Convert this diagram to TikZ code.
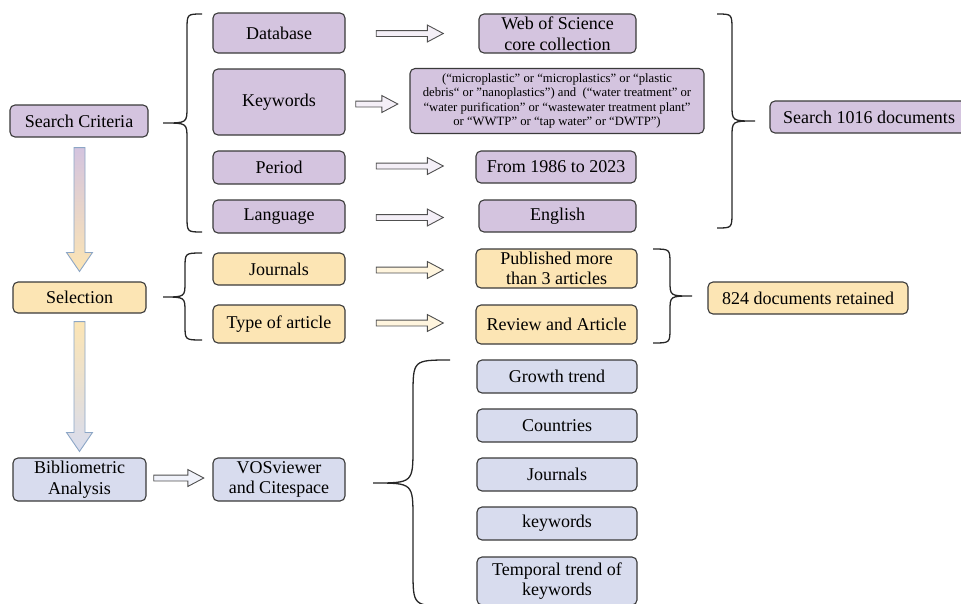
\documentclass[tikz,border=0pt]{standalone}
\usepackage{fontspec}
\setmainfont{Liberation Serif}
\usetikzlibrary{shapes.arrows,calc}
\definecolor{pur}{RGB}{212,196,223}
\definecolor{yel}{RGB}{252,229,180}
\definecolor{blu}{RGB}{216,220,238}
\definecolor{bd}{RGB}{58,58,58}
\definecolor{ad}{RGB}{80,80,80}
\definecolor{apur}{RGB}{244,239,247}
\definecolor{ayel}{RGB}{255,245,222}
\definecolor{ablu}{RGB}{240,242,250}
\definecolor{vb}{RGB}{140,166,198}
\newcommand{\mybrace}[7]{%
\draw[bracestyle] (#1,#4) .. controls (#2,#4) .. (#2,{#4+#7}) -- (#2,{#5-#7}) .. controls (#2,#5) .. (#3,#5) .. controls (#2,#5) .. (#2,{#5+#7}) -- (#2,{#6-#7}) .. controls (#2,#6) .. (#1,#6);}
\begin{document}
\begin{tikzpicture}[x=1pt,y=-1pt,
  box/.style={draw=bd, line width=1.1pt, rounded corners=5pt, inner sep=0pt, align=center,
    font=\fontsize{18}{20.5}\selectfont},
  pbox/.style={box, fill=pur},
  ybox/.style={box, fill=yel},
  bbox/.style={box, fill=blu},
  harrow/.style={single arrow, draw=ad, line width=0.9pt, minimum width=16pt,
    single arrow head extend=5.5pt, single arrow tip angle=56, inner sep=2.5pt},
  bracestyle/.style={draw=black!85, line width=1.3pt},
  varrow/.style={draw=vb, line width=0.9pt}]
\useasboundingbox (0,0) rectangle (961,603);
% --- Search criteria block
\node[pbox, minimum width=138pt, minimum height=32pt] (sc) at (79,121) {Search Criteria};
\node[pbox, minimum width=132pt, minimum height=40pt] (db) at (279,33) {Database};
\node[pbox, minimum width=132pt, minimum height=66pt] (kw) at (279,102) {Keywords};
\node[pbox, minimum width=132pt, minimum height=33pt] (pe) at (279,167.5) {Period};
\node[pbox, minimum width=132pt, minimum height=33pt] (la) at (279,216.5) {Language};
\node[pbox, minimum width=157pt, minimum height=39pt] (wos) at (557.5,33.5) {Web of Science\\core collection};
\node[pbox, minimum width=294pt, minimum height=65pt, font=\fontsize{12.7}{14.6}\selectfont] (kwt) at (557,101)
  {(“microplastic” or “microplastics” or “plastic\\debris“ or ”nanoplastics”) and\ \ (“water treatment” or\\“water purification” or “wastewater treatment plant”\\or “WWTP” or “tap water” or “DWTP”)};
\node[pbox, minimum width=160pt, minimum height=32pt] (per) at (556,167) {From 1986 to 2023};
\node[pbox, minimum width=157pt, minimum height=32pt] (eng) at (557.5,216) {English};
\node[pbox, minimum width=198pt, minimum height=32pt] (s1016) at (869,117) {Search 1016 documents};
% --- Selection block
\node[ybox, minimum width=133pt, minimum height=31pt] (sel) at (79.5,297.5) {Selection};
\node[ybox, minimum width=132pt, minimum height=32pt] (jo) at (279,269) {Journals};
\node[ybox, minimum width=132pt, minimum height=38pt] (ty) at (279,324) {Type of article};
\node[ybox, minimum width=161pt, minimum height=39pt] (pub) at (556.5,268.5) {Published more\\than 3 articles};
\node[ybox, minimum width=161pt, minimum height=39pt] (rev) at (556.5,324.5) {Review and Article};
\node[ybox, minimum width=200pt, minimum height=32pt] (r824) at (808,298) {824 documents retained};
% --- Bibliometric block
\node[bbox, minimum width=133pt, minimum height=43pt] (bib) at (79.5,479.5) {Bibliometric\\Analysis};
\node[bbox, minimum width=132pt, minimum height=43pt] (vos) at (279,479.5) {VOSviewer\\and Citespace};
\node[bbox, minimum width=160pt, minimum height=33pt] (gr) at (557,376.5) {Growth trend};
\node[bbox, minimum width=160pt, minimum height=33pt] (co) at (557,425.5) {Countries};
\node[bbox, minimum width=160pt, minimum height=33pt] (jo2) at (557,474.5) {Journals};
\node[bbox, minimum width=160pt, minimum height=33pt] (kw2) at (557,523.5) {keywords};
\node[bbox, minimum width=160pt, minimum height=48pt] (te) at (557,581) {Temporal trend of\\keywords};
% --- horizontal block arrows
\node[harrow, fill=apur, minimum height=67pt] (a1) at (407,33.5) {};
\node[harrow, fill=apur, minimum height=42pt] (a2) at (374,104) {};
\node[harrow, fill=apur, minimum height=67pt] (a3) at (407,166) {};
\node[harrow, fill=apur, minimum height=67pt] (a4) at (407,217.5) {};
\node[harrow, fill=ayel, minimum height=67pt] (a5) at (407,270) {};
\node[harrow, fill=ayel, minimum height=67pt] (a6) at (407,323) {};
\node[harrow, fill=ablu, minimum height=50pt] (a7) at (176,478) {};
% --- vertical gradient arrows
\coordinate (v1s) at ($(sc.south)+(0.5,10)$);
\coordinate (v1e) at ($(sel.north)+(0,-10)$);
\coordinate (v2s) at ($(sel.south)+(0,8)$);
\coordinate (v2e) at ($(bib.north)+(0,-6)$);
\shadedraw[varrow, top color=pur, bottom color=yel] let \p1=(v1s), \p2=(v1e) in
  (\x1-5.5pt,\y1) -- (\x1+5.5pt,\y1) -- (\x1+5.5pt,\y2+19pt) -- (\x1+13pt,\y2+19pt) -- (\x1,\y2)
  -- (\x1-13pt,\y2+19pt) -- (\x1-5.5pt,\y2+19pt) -- cycle;
\shadedraw[varrow, top color=yel, bottom color=blu] let \p1=(v2s), \p2=(v2e) in
  (\x1-5.5pt,\y1) -- (\x1+5.5pt,\y1) -- (\x1+5.5pt,\y2+19pt) -- (\x1+13pt,\y2+19pt) -- (\x1,\y2)
  -- (\x1-13pt,\y2+19pt) -- (\x1-5.5pt,\y2+19pt) -- cycle;
% --- braces
\mybrace{202}{187}{163}{14}{123}{232}{16}
\mybrace{717}{732}{755}{14}{121}{228}{16}
\mybrace{202}{185}{163}{253}{297}{340}{15}
\mybrace{653}{670}{692}{249}{296}{343}{15}
\mybrace{450}{413}{373}{360}{483}{606}{36}
\end{tikzpicture}
\end{document}
